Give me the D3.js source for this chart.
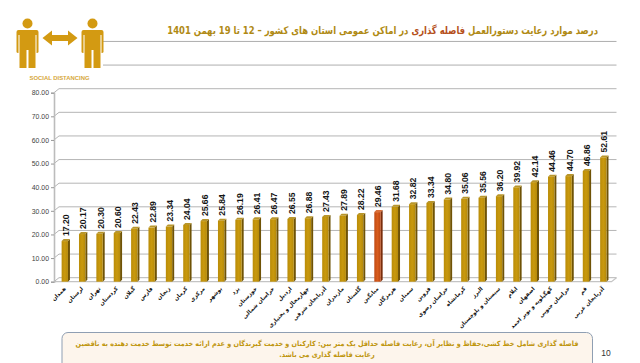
<!DOCTYPE html>
<html>
<head>
<meta charset="utf-8">
<script src="https://cdn.jsdelivr.net/npm/d3@7"></script>
<style>
  html, body { margin: 0; padding: 0; background: #fff; overflow: hidden; }
  svg { display: block; }
  text { font-family: "DejaVu Sans", "Liberation Sans", sans-serif; }
  .num { font-family: "Liberation Sans", sans-serif; }
</style>
</head>
<body>
<svg></svg>
<script>
const provinces = ["همدان", "لرستان", "تهران", "کردستان", "گیلان", "فارس", "زنجان", "کرمان", "مرکزی", "بوشهر", "یزد", "خوزستان", "خراسان شمالی", "اردبیل", "چهارمحال و بختیاری", "آذربایجان شرقی", "مازندران", "گلستان", "میانگین", "هرمزگان", "سمنان", "قزوین", "خراسان رضوی", "کرمانشاه", "البرز", "سیستان و بلوچستان", "ایلام", "اصفهان", "کهگیلویه و بویر احمد", "خراسان جنوبی", "قم", "آذربایجان غربی"];
const values = [17.20, 20.17, 20.30, 20.60, 22.43, 22.89, 23.34, 24.04, 25.66, 25.84, 26.19, 26.41, 26.47, 26.55, 26.88, 27.43, 27.89, 28.22, 29.46, 31.68, 32.82, 33.34, 34.80, 35.06, 35.56, 36.20, 39.92, 42.14, 44.46, 44.70, 46.86, 52.61];
const yTicks = [0, 10, 20, 30, 40, 50, 60, 70, 80];
const extraLines = [90, 100];
const averageName = "میانگین";
const noteLines = [
    "فاصله گذاری شامل خط کشی،حفاظ و نظایر آن، رعایت فاصله حداقل یک متر بین: کارکنان  و خدمت گیرندگان و عدم ارائه خدمت توسط خدمت دهنده به ناقضین",
    "رعایت فاصله گذاری می باشد."
];

const width = 640;
const height = 363;
const depthX = 5, depthY = 4;

const x = d3.scaleBand()
    .domain(provinces)
    .range([57.1, 613])
    .paddingInner(0.52)
    .paddingOuter(0.26);

const y = d3.scaleLinear()
    .domain([0, 80])
    .range([281.7, 92.7]);

const svg = d3.select("svg")
    .attr("width", width)
    .attr("height", height)
    .attr("viewBox", `0 0 ${width} ${height}`);

const defs = svg.append("defs");
const gold = defs.append("linearGradient").attr("id", "gold");
gold.append("stop").attr("offset", "0").attr("stop-color", "#b98c08");
gold.append("stop").attr("offset", "0.5").attr("stop-color", "#c9990e");
gold.append("stop").attr("offset", "1").attr("stop-color", "#b58a0a");
const red = defs.append("linearGradient").attr("id", "red");
red.append("stop").attr("offset", "0").attr("stop-color", "#c04a14");
red.append("stop").attr("offset", "0.5").attr("stop-color", "#d85c1c");
red.append("stop").attr("offset", "1").attr("stop-color", "#bb4612");

// back wall grid
svg.append("g").selectAll("path")
    .data(yTicks)
    .join("path")
    .attr("d", d => `M54,${y(d)}L${54 + depthX},${y(d) - depthY}H616.5`)
    .attr("fill", "none")
    .attr("stroke", "#b5b5b5")
    .attr("stroke-width", 1);

// the two lines running up behind the title
svg.append("g").selectAll("line")
    .data(extraLines)
    .join("line")
    .attr("x1", 103)
    .attr("x2", 616.5)
    .attr("y1", d => y(d) - depthY)
    .attr("y2", d => y(d) - depthY)
    .attr("stroke", "#aeaeae");

// floor front edge and right side
svg.append("path")
    .attr("d", `M54,${y(0)}H611.5L616.5,${y(0) - depthY}`)
    .attr("fill", "none")
    .attr("stroke", "#c4c4c4")
    .attr("stroke-width", 1.2);

// y axis
const yAxis = svg.append("g")
    .attr("transform", "translate(54,0)")
    .call(d3.axisLeft(y).tickValues(yTicks).tickFormat(d3.format(".2f")).tickSize(3));
yAxis.select(".domain").attr("stroke", "#bcbcbc").attr("stroke-width", 1.6);
yAxis.selectAll(".tick line").attr("stroke", "#999");
yAxis.selectAll("text")
    .attr("class", "num")
    .attr("x", -5)
    .attr("font-size", 6.9)
    .attr("fill", "#3f3f3f");

// x axis
const xAxis = svg.append("g")
    .attr("transform", `translate(0,${y(0)})`)
    .call(d3.axisBottom(x).tickSize(0));
xAxis.select(".domain").remove();
xAxis.selectAll("text")
    .attr("transform", "translate(-1,6) rotate(-45)")
    .attr("text-anchor", "end")
    .attr("x", 0)
    .attr("y", 0)
    .attr("dy", "0.35em")
    .attr("font-size", 5.5)
    .attr("font-weight", "bold")
    .attr("fill", "#111");

// bars
const sideW = 2, topH = 2;
const bars = svg.append("g").selectAll("g")
    .data(values)
    .join("g")
    .attr("transform", (d, i) => `translate(${x(provinces[i])},0)`);
const barW = x.bandwidth() - sideW;

bars.append("path")
    .attr("d", d => `M${barW},${y(d)}l${sideW},${-topH}V${y(0) - topH}l${-sideW},${topH}Z`)
    .attr("fill", (d, i) => provinces[i] === averageName ? "#7a2e0c" : "#6f5306");
bars.append("path")
    .attr("d", d => `M0,${y(d)}l${sideW},${-topH}h${barW}l${-sideW},${topH}Z`)
    .attr("fill", (d, i) => provinces[i] === averageName ? "#d9703a" : "#b8962c");
bars.append("rect")
    .attr("y", d => y(d))
    .attr("width", barW)
    .attr("height", d => y(0) - y(d))
    .attr("fill", (d, i) => provinces[i] === averageName ? "url(#red)" : "url(#gold)");

// value labels
bars.append("text")
    .attr("class", "num")
    .attr("transform", d => `translate(${x.bandwidth() / 2 + 3},${y(d) - 5}) rotate(-90)`)
    .attr("font-size", 8.6)
    .attr("font-weight", "bold")
    .attr("fill", "#141414")
    .text(d => d.toFixed(2));

// DejaVu's Arabic runs wider than the original font, so squeeze it horizontally
function squeeze(sel, right, targetWidth) {
    const k = targetWidth / sel.node().getComputedTextLength();
    sel.attr("transform", `translate(${right},${sel.attr("data-y")}) scale(${k},1)`);
    return k;
}

// title
const title = svg.append("text")
    .attr("data-y", 34)
    .attr("direction", "rtl")
    .attr("font-size", 10.6)
    .attr("font-weight", "bold")
    .attr("fill", "#b08a14");
title.append("tspan").text("درصد موارد رعایت دستورالعمل ");
title.append("tspan").attr("fill", "#b5501c").text("فاصله گذاری");
title.append("tspan").text(" در اماکن عمومی استان های کشور – 12 تا 19 بهمن 1401");
squeeze(title, 598, 431);

// social distancing icon
const icon = svg.append("g").attr("fill", "#d39a12");
function person(cx) {
    icon.append("circle").attr("cx", cx).attr("cy", 23.5).attr("r", 5);
    icon.append("path").attr("d", `M${cx - 9},30 Q${cx - 11},30 ${cx - 11},32 V52 Q${cx - 11},53 ${cx - 9},53 V35 H${cx - 8} V68 H${cx - 1} V50 H${cx + 1} V68 H${cx + 8} V35 H${cx + 9} V53 Q${cx + 11},53 ${cx + 11},52 V32 Q${cx + 11},30 ${cx + 9},30 Z`);
}
person(27.5);
person(92.5);
icon.append("path").attr("d", "M42.5,38 L52,30.5 V35 H68 V30.5 L77.5,38 L68,45.5 V41 H52 V45.5 Z");
svg.append("text")
    .attr("class", "num")
    .attr("x", 59.5)
    .attr("y", 79.5)
    .attr("text-anchor", "middle")
    .attr("font-size", 5.9)
    .attr("font-weight", "bold")
    .attr("fill", "#d6a73a")
    .text("SOCIAL DISTANCING");

// note box
svg.append("rect")
    .attr("x", 62)
    .attr("y", 332.5)
    .attr("width", 530.5)
    .attr("height", 45)
    .attr("rx", 6)
    .attr("fill", "#fdf5ec")
    .attr("stroke", "#8f9fb3")
    .attr("stroke-width", 1);
const noteText = svg.append("g").selectAll("text")
    .data(noteLines)
    .join("text")
    .attr("data-y", (d, i) => 345.5 + i * 11)
    .attr("text-anchor", "middle")
    .attr("direction", "rtl")
    .attr("font-size", 7.2)
    .attr("font-weight", "bold")
    .attr("fill", "#bf960f")
    .text(d => d);
const noteK = 503 / noteText.nodes()[0].getComputedTextLength();
noteText.attr("transform", function () {
    return `translate(327,${this.getAttribute("data-y")}) scale(${noteK},1)`;
});

svg.append("text")
    .attr("class", "num")
    .attr("x", 606)
    .attr("y", 356)
    .attr("text-anchor", "middle")
    .attr("font-size", 8.5)
    .attr("fill", "#333")
    .text("10");
</script>
</body>
</html>
